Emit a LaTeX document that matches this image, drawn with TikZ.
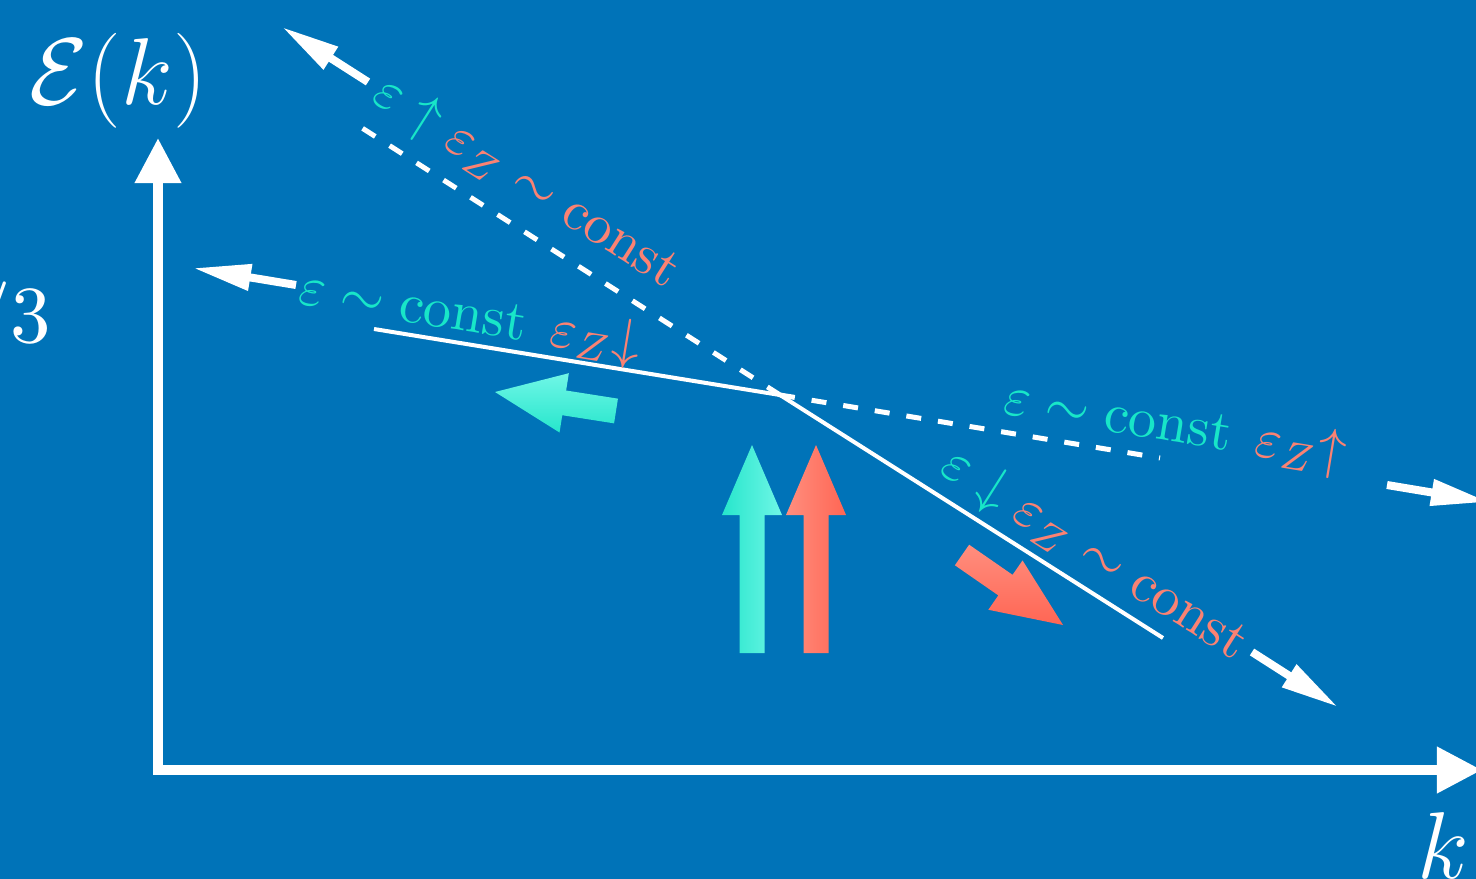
\documentclass[tikz,border=0pt]{standalone}
\usepackage{fix-cm}
\usepackage{amsmath,amssymb}
\usepackage{xcolor}
\usepackage{tikz}
\usetikzlibrary{arrows.meta, calc}

\definecolor{bgblue}{RGB}{0,115,184}
\definecolor{epscyan}{RGB}{24,230,200}
\definecolor{epszsalmon}{RGB}{250,130,115}
\definecolor{cyanlight}{RGB}{112,246,230}
\definecolor{cyandark}{RGB}{38,230,204}
\definecolor{salmonlight}{RGB}{255,142,126}
\definecolor{salmondark}{RGB}{255,102,84}

\tikzset{
  % Axes and spectrum lines
  axisline/.style={white, line width=1mm, line join=miter, {Triangle[length=4.5mm, width=4.4mm]}-{Triangle[length=4.5mm, width=4.4mm]}},
  spectrum/.style={white, line width=0.4mm},
  extrap/.style={white, line width=0.5mm, dash pattern=on 1.5mm off 1.7mm},
  trend/.style={white, line width=0.8mm, -{Triangle[length=5.8mm, width=2.5mm]}},
  % Labels
  lbl/.style={inner sep=0pt, text=epscyan, font=\normalsize, scale=1.6},
  biglbl/.style={inner sep=0pt, text=white, font=\fontsize{27}{32}\selectfont},
}

% fat shaded arrow: tail, tip, shading
\newcommand{\fatarrow}[3]{%
  \coordinate (fa-b) at ($(#2)!0.7cm!(#1)$);
  \shade[#3] ($(#1)!1.25mm!90:(#2)$) -- ($(fa-b)!1.25mm!90:(#2)$) -- ($(fa-b)!3mm!90:(#2)$) -- (#2)
    -- ($(fa-b)!3mm!-90:(#2)$) -- ($(fa-b)!1.25mm!-90:(#2)$) -- ($(#1)!1.25mm!-90:(#2)$) -- cycle;
}

\begin{document}
\begin{tikzpicture}[x=0.01cm, y=-0.01cm]
  % Background
  \useasboundingbox (0,0) rectangle (1476,879);
  \fill[bgblue] (0,0) rectangle (1476,879);
  \clip (0,0) rectangle (1476,879);

  % Axes
  \coordinate (origin) at (158,770);
  \coordinate (ytip) at (158,138);
  \coordinate (xtip) at (1482,770);
  \draw[axisline] (ytip) -- (origin) -- (xtip);

  \node[biglbl] (ek) at (118,81) {$\mathcal{E}(k)$};
  \node[biglbl, anchor=base] (kk) at (1443,878) {$k$};
  \node[inner sep=0pt, text=white, anchor=base east, font=\normalsize, scale=2.3] (slope) at (53,342) {$-5/3$};

  % Broken spectrum
  \coordinate (kink) at (780,395);
  \coordinate (solidL) at (374,329);
  \coordinate (solidR) at (1163,638);
  \coordinate (dashUL) at (362,128);
  \coordinate (dashR) at (1160,458);

  \draw[extrap] (kink) -- (dashUL);
  \draw[extrap] (kink) -- (dashR);
  \draw[spectrum, line join=miter] (solidL) -- (kink) -- (solidR);

  % Trend arrows
  \coordinate (ulA) at (368,82);  \coordinate (ulB) at (282,27);
  \coordinate (lA) at (296,285);  \coordinate (lB) at (193,268);
  \coordinate (rA) at (1387,485); \coordinate (rB) at (1489,502);
  \coordinate (lrA) at (1252,652); \coordinate (lrB) at (1338,707);
  \draw[trend] (ulA) -- (ulB);
  \draw[trend] (lA) -- (lB);
  \draw[trend] (rA) -- (rB);
  \draw[trend] (lrA) -- (lrB);

  % Labels along the lines
  \node[lbl, rotate=-32.4] (labUL) at (526,183) {$\varepsilon\uparrow\color{epszsalmon}\varepsilon_Z\sim\mathrm{const}$};
  \node[lbl, rotate=-9.4] (labL) at (470,318) {$\varepsilon\sim\mathrm{const}\;\,\color{epszsalmon}\varepsilon_Z{\downarrow}$};
  \node[lbl, rotate=-9.4] (labR) at (1175,428) {$\varepsilon\sim\mathrm{const}\;\,\color{epszsalmon}\varepsilon_Z{\uparrow}$};
  \node[lbl, rotate=-32.4] (labLR) at (1094,555) {$\varepsilon\downarrow\color{epszsalmon}\varepsilon_Z\sim\mathrm{const}$};

  % Shaded arrows
  \coordinate (cyL1) at (616,411);  \coordinate (cyL2) at (495,392);
  \coordinate (cyU1) at (752,653);  \coordinate (cyU2) at (752,445);
  \coordinate (saU1) at (816,653);  \coordinate (saU2) at (816,445);
  \coordinate (saD1) at (962,555);  \coordinate (saD2) at (1063,625);
  \fatarrow{cyL1}{cyL2}{top color=cyanlight, bottom color=cyandark}
  \fatarrow{cyU1}{cyU2}{left color=cyandark, right color=cyanlight}
  \fatarrow{saU1}{saU2}{left color=salmonlight, right color=salmondark}
  \fatarrow{saD1}{saD2}{top color=salmonlight, bottom color=salmondark}
\end{tikzpicture}
\end{document}
